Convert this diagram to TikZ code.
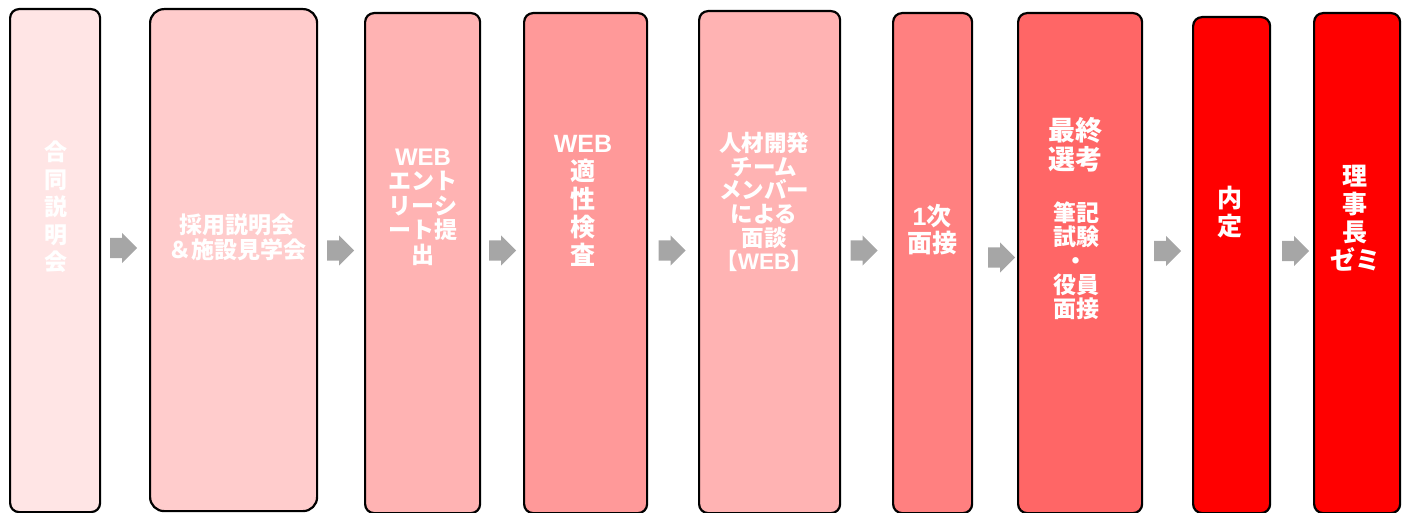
\documentclass[tikz,border=0pt]{standalone}
\usepackage{fontspec}
\setmainfont{Liberation Sans}
\newfontfamily\jp{Noto Sans CJK JP}
\newfontfamily\latf{Liberation Sans}
\newcommand\lat[1]{{\latf\bfseries #1}}
\usetikzlibrary{shapes.arrows}
\definecolor{cA}{HTML}{FFE5E5}
\definecolor{cB}{HTML}{FFCCCC}
\definecolor{cC}{HTML}{FFB3B3}
\definecolor{cD}{HTML}{FF9999}
\definecolor{cE}{HTML}{FF8080}
\definecolor{cF}{HTML}{FF6666}
\definecolor{cG}{HTML}{FF0000}
\definecolor{arrowgray}{HTML}{A6A6A6}
\tikzset{
  stepbox/.style={draw=black, line width=2.2pt, rounded corners=9pt, anchor=north west, inner sep=0pt},
  lbl/.style={text=white, align=center, inner sep=0pt},
  blockarrow/.style={single arrow, fill=arrowgray, draw=none, minimum height=27pt,
     single arrow head extend=5pt, inner xsep=0pt, inner ysep=10pt, text height=0pt, text depth=0pt,
     shape border rotate=0, anchor=tail}
}
\begin{document}
\begin{tikzpicture}[x=1pt,y=-1pt]
\useasboundingbox (0,0) rectangle (1407,513);
% boxes
\node[stepbox, fill=cA, minimum width=90pt,  minimum height=503pt] (b1) at (9,8) {};
\node[stepbox, fill=cB, minimum width=167pt, minimum height=502pt, rounded corners=14pt] (b2) at (149,8) {};
\node[stepbox, fill=cC, minimum width=115pt, minimum height=500pt] (b3) at (364,12) {};
\node[stepbox, fill=cD, minimum width=123pt, minimum height=500pt] (b4) at (523,12) {};
\node[stepbox, fill=cC, minimum width=141pt, minimum height=502pt] (b5) at (698,10) {};
\node[stepbox, fill=cE, minimum width=79pt,  minimum height=500pt] (b6) at (892,12) {};
\node[stepbox, fill=cF, minimum width=124pt, minimum height=500pt] (b7) at (1017,12) {};
\node[stepbox, fill=cG, minimum width=77pt,  minimum height=496pt] (b8) at (1192,16) {};
\node[stepbox, fill=cG, minimum width=86pt,  minimum height=500pt] (b9) at (1313,12) {};
% arrows
\node[blockarrow] (a1) at (110,248) {};
\node[blockarrow] (a2) at (327,250.5) {};
\node[blockarrow] (a3) at (489,250.5) {};
\node[blockarrow] (a4) at (658.5,250.5) {};
\node[blockarrow] (a5) at (850.5,250.5) {};
\node[blockarrow] (a6) at (988,257.5) {};
\node[blockarrow] (a7) at (1154,251) {};
\node[blockarrow] (a8) at (1282,251) {};
% labels
\node[lbl, font=\jp\bfseries\fontsize{23}{27.5}\selectfont] (t1) at (56,207) {合\\同\\説\\明\\会};
\node[lbl, font=\jp\bfseries\fontsize{23}{25}\selectfont] (t2) at (237,237.5) {採用説明会\\＆施設見学会};
\node[lbl, font=\jp\bfseries\fontsize{23}{24.5}\selectfont] (t3) at (423,207) {\lat{\fontsize{24}{24}\selectfont WEB}\\エント\\リーシ\\ート提\\出};
\node[lbl, font=\jp\bfseries\fontsize{25}{28}\selectfont] (t4) at (583,201) {\lat{\fontsize{25}{25}\selectfont WEB}\\適\\性\\検\\査};
\node[lbl, font=\jp\bfseries\fontsize{22.5}{23.7}\selectfont] (t5) at (764,202) {人材開発\\チーム\\メンバー\\による\\面談\\【\lat{WEB}】};
\node[lbl, font=\jp\bfseries\fontsize{25}{27}\selectfont] (t6) at (932,230) {\lat{1}次\\面接};
\node[lbl, font=\jp\bfseries\fontsize{27}{29}\selectfont] (t7a) at (1075,145) {最終\\選考};
\node[lbl, font=\jp\bfseries\fontsize{23}{24}\selectfont] (t7b) at (1076,261) {筆記\\試験\\・\\役員\\面接};
\node[lbl, font=\jp\bfseries\fontsize{25}{28}\selectfont] (t8) at (1230,212.5) {内\\定};
\node[lbl, font=\jp\bfseries\fontsize{25}{28}\selectfont] (t9) at (1355,218.5) {理\\事\\長\\ゼミ};
\end{tikzpicture}
\end{document}
